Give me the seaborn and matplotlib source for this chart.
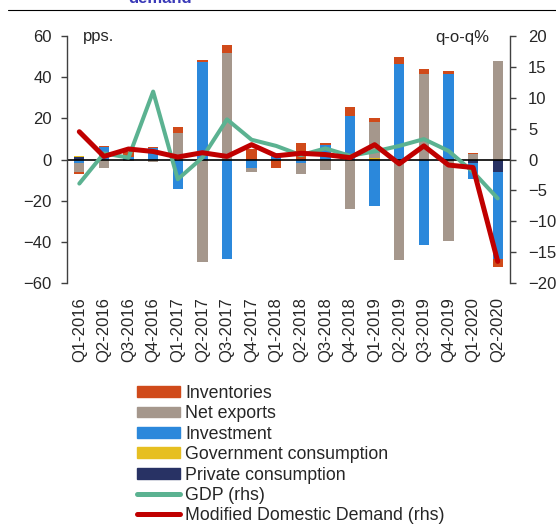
import numpy as np
import pandas as pd
import seaborn as sns
import matplotlib.pyplot as plt
from matplotlib.lines import Line2D
from matplotlib.patches import Patch

# quarters on the x axis
quarters = ['Q1-2016', 'Q2-2016', 'Q3-2016', 'Q4-2016',
            'Q1-2017', 'Q2-2017', 'Q3-2017', 'Q4-2017',
            'Q1-2018', 'Q2-2018', 'Q3-2018', 'Q4-2018',
            'Q1-2019', 'Q2-2019', 'Q3-2019', 'Q4-2019',
            'Q1-2020', 'Q2-2020']

# contributions, pps (lhs)
private_cons = [1.0, 0, 0, 0, 0, 0, 0, 0, 0, 0, 0, 0, 0, 0, 0, 0, -1.5, -6.3]
gov_cons = [0.7, 0, 0, 0, 0, 0, 0, 0, 0, 0, 0, 0, 0.7, 0, 0, 0, 0, 0]
investment = [-1.5, 6.0, 1.0, 5.5, -14.5, 47.2, -48.5, -4.0, 3.0, -1.5,
              7.0, 21.0, -22.5, 46.5, -41.5, 41.5, -8.0, -42.0]
net_exports = [-4.5, -4.0, -0.5, -1.0, 12.8, -49.8, 51.5, -2.0, 0, -5.5,
               -5.0, -24.0, 17.5, -49.0, 41.5, -39.5, 2.5, 48.0]
inventories = [-1.0, 0.7, 2.5, 0.5, 2.8, 1.2, 4.0, 5.0, -4.0, 8.0,
               1.0, 4.5, 2.0, 3.5, 2.5, 1.5, 0.8, -3.7]

# q-o-q % (rhs)
gdp = [-3.9, 1.0, 0.3, 11.0, -3.2, 0.3, 6.5, 3.2, 2.2, 0.7,
       1.8, 0.6, 1.3, 2.2, 3.3, 1.4, -2.0, -6.3]
mdd = [4.5, 0.5, 1.7, 1.3, 0.4, 1.1, 0.5, 2.4, 0.6, 1.0,
       0.8, 0.3, 2.4, -0.7, 2.2, -0.9, -1.3, -16.5]

names = ['Private consumption', 'Government consumption', 'Investment',
         'Net exports', 'Inventories']
colors = ['#283264', '#E6BF21', '#2B88DB', '#A5978C', '#D04A1A']
gdp_color = '#5BB291'
mdd_color = '#C00000'

sns.set_theme(style='white')
plt.rcParams['font.family'] = ['Liberation Sans', 'DejaVu Sans']

fig = plt.figure(figsize=(5.56, 5.26), dpi=100)
ax = fig.add_axes([67 / 556, 1 - 283 / 526, 443 / 556, 247 / 526])

parts = np.array([private_cons, gov_cons, investment, net_exports, inventories])
pos = np.clip(parts, 0, None).cumsum(axis=0)
neg = np.clip(parts, None, 0).cumsum(axis=0)

# draw cumulative layers from the outside in
for k in reversed(range(len(parts))):
    for h in (pos[k], neg[k]):
        sns.barplot(x=quarters, y=h, color=colors[k], width=0.42,
                    saturation=1, errorbar=None, linewidth=0, ax=ax)

ax.axhline(0, color='black', lw=1.2)
ax.set_ylim(-60, 60)
ax.set_yticks(range(-60, 61, 20))
ax.set_xlim(-0.5, len(quarters) - 0.5)
ax.set_xlabel('')
ax.set_ylabel('')
for s in ['top', 'bottom', 'right']:
    ax.spines[s].set_visible(False)
ax.spines['left'].set_color('#404040')
ax.spines['left'].set_linewidth(1)
ax.tick_params(axis='y', direction='out', length=4, width=1, color='#404040',
               pad=7, labelsize=12, left=True)
ax.tick_params(axis='x', length=0, pad=10, labelrotation=90, labelsize=12)

ax2 = ax.twinx()
x = np.arange(len(quarters))
sns.lineplot(x=x, y=gdp, color=gdp_color, lw=2.9, ax=ax2)
sns.lineplot(x=x, y=mdd, color=mdd_color, lw=3.6, ax=ax2)
ax2.set_ylim(-20, 20)
ax2.set_yticks(range(-20, 21, 5))
ax2.set_xlim(-0.5, len(quarters) - 0.5)
for s in ['top', 'bottom', 'left']:
    ax2.spines[s].set_visible(False)
ax2.spines['right'].set_color('#404040')
ax2.spines['right'].set_linewidth(1)
ax2.tick_params(axis='y', direction='out', length=4, width=1, color='#404040',
                pad=9, labelsize=12, right=True)
ax2.grid(False)
ax.grid(False)

ax.text(0.036, 0.978, 'pps.', transform=ax.transAxes, fontsize=12,
        va='baseline', ha='left')
ax.text(0.954, 0.975, 'q-o-q%', transform=ax.transAxes, fontsize=12,
        va='baseline', ha='right')

handles = [Patch(color=colors[k], label=names[k]) for k in reversed(range(5))]
handles.append(Line2D([], [], color=gdp_color, lw=3.6, label='GDP (rhs)'))
handles.append(Line2D([], [], color=mdd_color, lw=3.6,
                      label='Modified Domestic Demand (rhs)'))
fig.legend(handles=handles, loc='upper left', bbox_to_anchor=(137 / 556, 1 - 385 / 526),
           frameon=False, fontsize=12.8, borderpad=0, borderaxespad=0,
           handlelength=2.4, handleheight=0.55, handletextpad=0.3,
           labelspacing=0.19)

# cut-off title and rule from the source page
fig.text(128 / 556, 1 - 3 / 526, 'demand', color='#3A3AB8', fontsize=12,
         fontweight='bold', va='baseline', ha='left')
fig.add_artist(Line2D([8 / 556, 1], [1 - 10 / 526, 1 - 10 / 526],
                      color='black', lw=0.8, transform=fig.transFigure))

fig.savefig('out.png', dpi=100)
